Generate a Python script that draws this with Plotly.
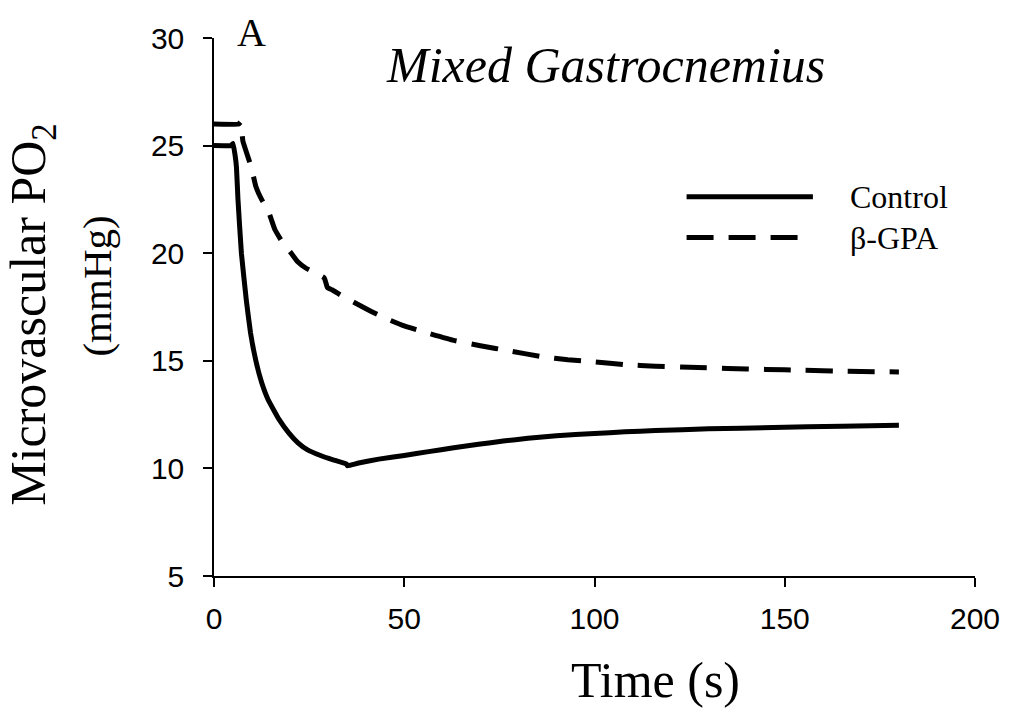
import plotly.graph_objects as go

# Control (solid)
control_t = [0, 4.5, 5.0, 5.5, 5.9, 6.3, 7.2, 8.5, 9.6, 11.0, 12.5, 14.2, 17.0, 19.7, 22.0, 24.6,
             28.0, 31.3, 34.8, 35.1, 38.0, 43.3, 50.0, 56.4, 63.0, 69.5, 76.0, 82.5, 90.0, 100.0,
             108.0, 116.0, 130.0, 147.0, 165.0, 180.0]
control_v = [25.0, 25.0, 25.1, 24.6, 24.0, 22.5, 20.0, 17.8, 16.3, 15.0, 14.0, 13.2, 12.3, 11.64, 11.2, 10.86,
             10.6, 10.4, 10.2, 10.12, 10.25, 10.43, 10.6, 10.78, 10.96, 11.12, 11.27, 11.4, 11.52, 11.62,
             11.7, 11.76, 11.84, 11.9, 11.96, 12.0]

# beta-GPA (dashed)
gpa_t = [0, 6.5, 7.0, 7.6, 8.5, 9.8, 11.0, 12.5, 14.2, 16.0, 18.0, 20.3, 22.0, 24.2, 27.0, 29.0, 29.8,
         31.0, 33.8, 37.0, 41.2, 45.0, 50.0, 56.0, 63.0, 70.0, 78.0, 86.0, 93.0, 100.0, 108.0, 116.0,
         125.0, 135.0, 145.0, 155.0, 165.0, 180.0]
gpa_v = [26.0, 26.0, 26.1, 25.2, 24.7, 24.0, 23.1, 22.5, 22.0, 21.1, 20.5, 20.0, 19.6, 19.3, 19.05, 18.85, 18.4,
         18.3, 18.0, 17.7, 17.3, 16.98, 16.62, 16.3, 15.95, 15.7, 15.45, 15.2, 15.05, 14.95, 14.82, 14.75,
         14.7, 14.64, 14.6, 14.56, 14.52, 14.48]

x_ticks = [0, 50, 100, 150, 200]
y_ticks = [5, 10, 15, 20, 25, 30]

SERIF = "Liberation Serif"
SANS = "Liberation Sans"
DASH = "27px,15px"
LW = 5

fig = go.Figure()
fig.add_trace(go.Scatter(x=control_t, y=control_v, mode="lines",
                         line=dict(color="black", width=LW, shape="spline", smoothing=0.3),
                         showlegend=False))
fig.add_trace(go.Scatter(x=gpa_t, y=gpa_v, mode="lines",
                         line=dict(color="black", width=LW, dash=DASH, shape="spline", smoothing=0.3),
                         showlegend=False))

fig.update_layout(
    width=1012, height=721,
    margin=dict(l=214, r=32, t=38, b=145),
    paper_bgcolor="white", plot_bgcolor="white",
    showlegend=False,
)
fig.update_xaxes(range=[0, 200], tickvals=x_ticks, ticks="outside", ticklen=9, tickwidth=1.5,
                 tickcolor="black", showline=True, linecolor="black", linewidth=1.5,
                 showgrid=False, zeroline=False, tickfont=dict(family=SANS, size=30, color="black"),
                 ticklabelstandoff=6)
fig.update_yaxes(range=[5, 30], tickvals=y_ticks, ticks="outside", ticklen=9, tickwidth=1.5,
                 tickcolor="black", showline=True, linecolor="black", linewidth=1.5,
                 showgrid=False, zeroline=False, tickfont=dict(family=SANS, size=30, color="black"),
                 ticklabelstandoff=13)

def ann(text, x, y, size, angle=0, xanchor="center"):
    fig.add_annotation(text=text, x=x, y=y, xref="paper", yref="paper", showarrow=False,
                       xanchor=xanchor, yanchor="middle", textangle=angle,
                       font=dict(family=SERIF, size=size, color="black"))

ann("A", 0.0496, 1.010, 40)
ann("<i>Mixed Gastrocnemius</i>", 0.514, 0.949, 50)
ann("Time (s)", 0.58, -0.1935, 50)
ann("Microvascular PO<sub>2</sub>", -0.239, 0.4856, 50, angle=-90)
ann("(mmHg)", -0.154, 0.5395, 41, angle=-90)
ann("Control", 0.833, 0.705, 32, xanchor="left")
ann("β-GPA", 0.833, 0.629, 32, xanchor="left")

fig.add_shape(type="line", xref="paper", yref="paper", x0=0.621, x1=0.787, y0=0.705, y1=0.705,
              line=dict(color="black", width=LW))
fig.add_shape(type="line", xref="paper", yref="paper", x0=0.621, x1=0.769, y0=0.629, y1=0.629,
              line=dict(color="black", width=LW, dash=DASH))

fig.write_html("out.html")
